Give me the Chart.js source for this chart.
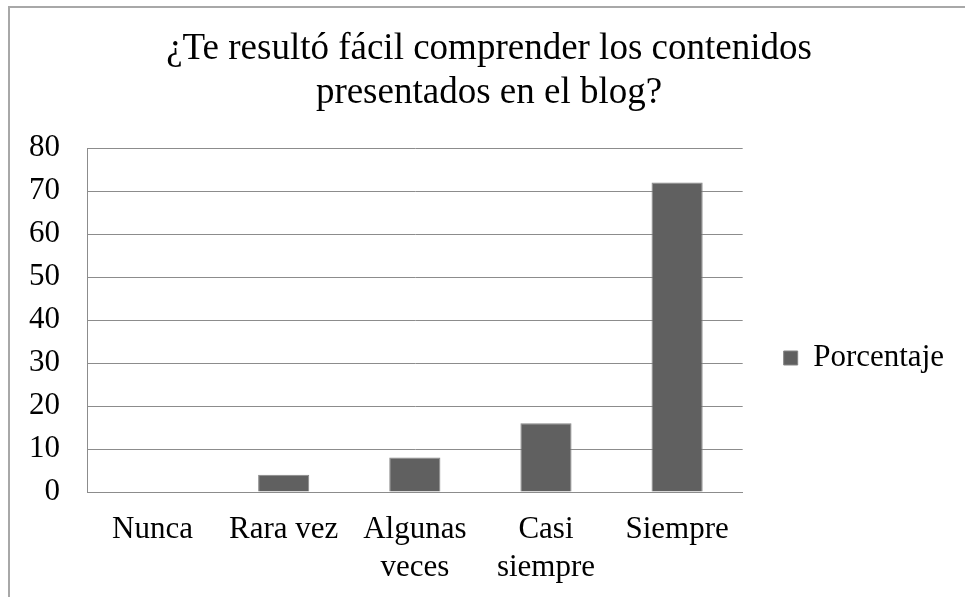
<!DOCTYPE html>
<html>
<head>
<meta charset="utf-8">
<script src="https://cdn.jsdelivr.net/npm/chart.js@4"></script>
<style>
  body { margin: 0; background: #fff; }
  #frame {
    position: absolute; left: 8px; top: 6px; width: 1000px; height: 1000px;
    border-left: 2px solid #a8a8a8; border-top: 2px solid #a8a8a8;
  }
  #wrap { position: absolute; left: 0; top: 0; width: 965px; height: 597px; }
</style>
</head>
<body>
<div id="frame"></div>
<div id="wrap"><canvas id="chart"></canvas></div>
<script>
const categories = ["Nunca", "Rara vez", ["Algunas", "veces"], ["Casi", "siempre"], "Siempre"];
const porcentaje = [0, 4, 8, 16, 72];
const seriesName = "Porcentaje";
const titleLines = ["¿Te resultó fácil comprender los contenidos", "presentados en el blog?"];

const serif = "'Liberation Serif', 'Times New Roman', serif";

document.addEventListener("DOMContentLoaded", () => {
  const ctx = document.getElementById("chart").getContext("2d");
  new Chart(ctx, {
    type: "bar",
    data: {
      labels: categories,
      datasets: [
        {
          label: seriesName,
          data: porcentaje,
          backgroundColor: "#606060",
          borderColor: "#858585",
          borderWidth: 1,
          categoryPercentage: 1,
          barPercentage: 0.39,
        },
      ],
    },
    options: {
      responsive: true,
      maintainAspectRatio: false,
      animation: false,
      layout: { padding: { left: 24, right: 11, top: 0, bottom: 0 } },
      plugins: {
        title: {
          display: true,
          text: titleLines,
          color: "#000",
          font: { family: serif, size: 37, weight: "normal", lineHeight: 1.19 },
          padding: { top: 27, bottom: 33 },
        },
        legend: {
          position: "right",
          align: "center",
          // empty title only pushes the legend item down to where it sits in the original
          title: {
            display: true,
            text: " ",
            font: { size: 10, lineHeight: 1 },
            padding: { top: 109, bottom: 0 },
          },
          labels: {
            color: "#000",
            font: { family: serif, size: 31 },
            boxWidth: 14,
            boxHeight: 14,
            padding: 41,
          },
        },
        tooltip: { enabled: false },
      },
      scales: {
        y: {
          min: 0,
          max: 80,
          afterFit: (scale) => {
            scale.width = 63;
          },
          ticks: {
            stepSize: 10,
            color: "#000",
            padding: 27,
            font: { family: serif, size: 31 },
          },
          grid: { color: "#8c8c8c", drawTicks: false },
          border: { color: "#8c8c8c" },
        },
        x: {
          afterFit: (scale) => {
            scale.height = 105;
          },
          ticks: {
            color: "#000",
            padding: 18,
            maxRotation: 0,
            autoSkip: false,
            font: { family: serif, size: 31, lineHeight: 1.25 },
          },
          grid: { display: false, drawTicks: false },
          border: { color: "#8c8c8c" },
        },
      },
    },
  });
});
</script>
</body>
</html>
